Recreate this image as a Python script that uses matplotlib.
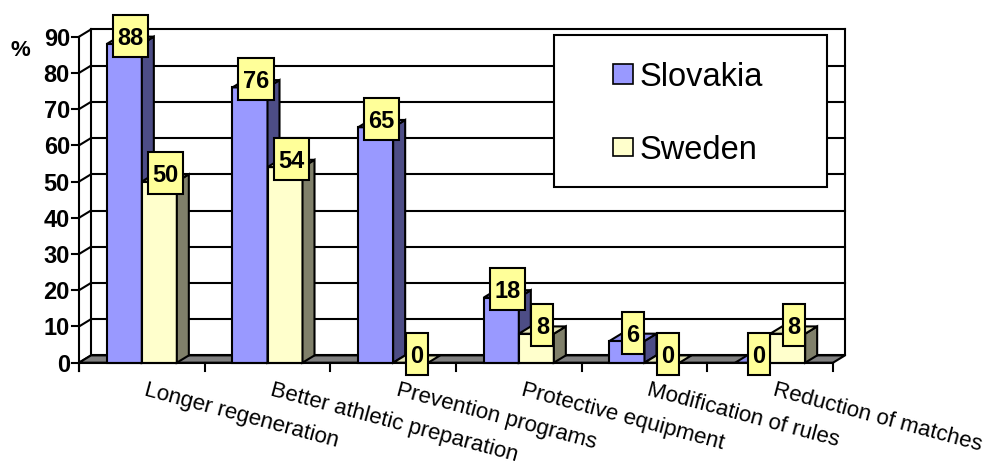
import matplotlib
matplotlib.use("Agg")
import matplotlib.pyplot as plt
from matplotlib.patches import Polygon, Rectangle
from matplotlib.lines import Line2D

plt.rcParams['font.family'] = ['Liberation Sans', 'DejaVu Sans']

categories = ["Longer regeneration", "Better athletic preparation", "Prevention programs",
              "Protective equipment", "Modification of rules", "Reduction of matches"]
series_names = ["Slovakia", "Sweden"]
slovakia = [88, 76, 65, 18, 6, 0]
sweden = [50, 54, 0, 8, 0, 8]
y_ticks = [0, 10, 20, 30, 40, 50, 60, 70, 80, 90]

# face colours per series: front, side, top
colors = {
    "Slovakia": ("#9999FF", "#4D4D86", "#8C8CEB"),
    "Sweden": ("#FFFFCC", "#80806A", "#E3E3B6"),
}
LABEL_BG = "#FFFF99"
FLOOR = "#808080"
LW = 1.5

W, H = 994, 468
fig = plt.figure(figsize=(W / 100, H / 100), dpi=100)
fig.patch.set_facecolor("white")

# front plane of the plot area (pixels)
x0, x1 = 79, 833
yb, yt = 362.7, 36.7
ymax = y_ticks[-1]
ncat = len(categories)
ax = fig.add_axes([x0 / W, (H - yb) / H, (x1 - x0) / W, (yb - yt) / H])
ax.set_xlim(0, ncat)
ax.set_ylim(0, ymax)
ax.axis("off")

sx = ncat / (x1 - x0)      # data units per pixel, x
sy = ymax / (yb - yt)      # data units per pixel, y
DX, DY = 12 * sx, 7.3 * sy  # depth offset
BW = 35 * sx                # bar width


def line(xs, ys, z=2, lw=LW):
    ax.add_line(Line2D(xs, ys, color="black", lw=lw, clip_on=False, zorder=z,
                       solid_capstyle="projecting"))


def poly(pts, fc, z):
    ax.add_patch(Polygon(pts, closed=True, fc=fc, ec="black", lw=LW,
                         joinstyle="miter", clip_on=False, zorder=z))


# back wall with gridlines
for v in y_ticks:
    line([DX, ncat + DX], [v + DY, v + DY], z=1)
line([DX, DX], [DY, ymax + DY], z=1)
line([ncat + DX, ncat + DX], [DY, ymax + DY], z=1)
# side wall edges
for v in y_ticks:
    line([0, DX], [v, v + DY], z=1)
line([0, 0], [-8 * sy, ymax], z=1)
# tick marks and labels on the value axis
for v in y_ticks:
    line([-7 * sx, 0], [v, v], z=1)
    ax.text(-9 * sx, v, str(v), ha="right", va="center_baseline", fontsize=17,
            fontweight="bold", clip_on=False)
fig.text(20 / W, 1 - 48 / H, "%", ha="center", va="center_baseline", fontsize=16,
         fontweight="bold")

# floor
poly([(0, 0), (ncat, 0), (ncat + DX, DY), (DX, DY)], FLOOR, 2)


def bar3d(xl, h, name, z):
    front, side, top = colors[name]
    if h > 0:
        poly([(xl, 0), (xl + BW, 0), (xl + BW, h), (xl, h)], front, z)
        poly([(xl + BW, 0), (xl + BW + DX, DY), (xl + BW + DX, h + DY), (xl + BW, h)], side, z)
    poly([(xl, h), (xl + BW, h), (xl + BW + DX, h + DY), (xl + DX, h + DY)], top, z)


z = 3
bars = []
for i in range(ncat):
    c = i + 0.5
    for j, (name, vals) in enumerate(zip(series_names, [slovakia, sweden])):
        xl = c - BW + j * BW
        bar3d(xl, vals[i], name, z)
        bars.append((xl, vals[i]))
        z += 1

# category axis with tick marks
line([0, ncat], [0, 0], z=z)
for k in range(ncat + 1):
    line([k, k], [0, -8 * sy], z=z)
for i, cat in enumerate(categories):
    ax.text(i + 0.5 + 6 * sx, -17 * sy, cat, ha="left", va="top", rotation=-15,
            rotation_mode="anchor", fontsize=16, clip_on=False)

# value labels
z += 1
for xl, v in bars:
    s = str(v)
    bw_px = 9 + 13 * len(s)
    cx = xl + BW / 2 + DX / 2
    cy = v + 8.4 * sy
    ax.add_patch(Rectangle((cx - bw_px * sx / 2, cy - 21 * sy), bw_px * sx, 42 * sy,
                           fc=LABEL_BG, ec="black", lw=LW, clip_on=False, zorder=z))
    ax.text(cx, cy, s, ha="center", va="center_baseline", fontsize=17,
            fontweight="bold", zorder=z + 1, clip_on=False)
    z += 2

# legend
def fpx(px, py):
    return px / W, 1 - py / H

lx0, ly0 = fpx(554, 187)
lx1, ly1 = fpx(827, 35)
fig.add_artist(Rectangle((lx0, ly0), lx1 - lx0, ly1 - ly0, transform=fig.transFigure,
                         fc="white", ec="black", lw=LW, zorder=50))
for name, yc in zip(series_names, [74, 147]):
    sx0, sy0 = fpx(613, yc + 9.5)
    sx1, sy1 = fpx(632.5, yc - 9.5)
    fig.add_artist(Rectangle((sx0, sy0), sx1 - sx0, sy1 - sy0, transform=fig.transFigure,
                             fc=colors[name][0], ec="black", lw=1.2, zorder=51))
    tx, ty = fpx(640, yc)
    fig.text(tx, ty, name, ha="left", va="center_baseline", fontsize=23.5, zorder=52)

fig.savefig("out.png", dpi=100, facecolor="white")
